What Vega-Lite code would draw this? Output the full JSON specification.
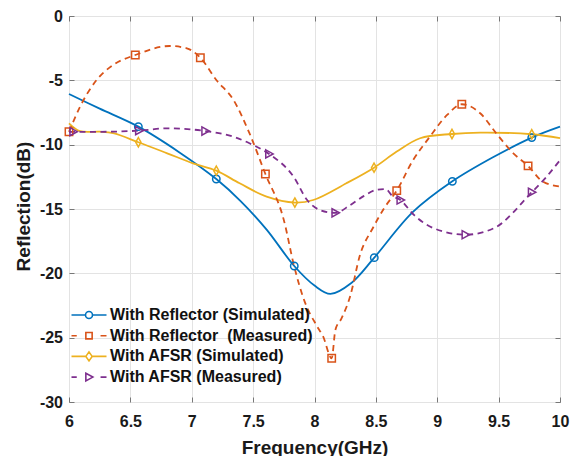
{
  "$schema": "https://vega.github.io/schema/vega-lite/v6.json",
  "width": 491,
  "height": 386,
  "autosize": {"type": "none"},
  "padding": {"left": 69, "top": 16, "right": 22, "bottom": 54},
  "background": "white",
  "config": {
    "font": "Liberation Sans",
    "view": {"stroke": "#7a7a7a", "strokeWidth": 1},
    "legend": {
      "orient": "none",
      "legendX": 12,
      "legendY": 291,
      "padding": 0,
      "symbolSize": 196,
      "symbolStrokeWidth": 1.6,
      "symbolFillColor": "transparent",
      "symbolOffset": 0,
      "labelOffset": 13,
      "labelFont": "Liberation Sans",
      "labelFontSize": 16,
      "labelFontWeight": "bold",
      "labelColor": "#111111",
      "labelLimit": 400,
      "rowPadding": 4.7
    }
  },
  "datasets": {
    "lines": [
      {"s": "With Reflector (Simulated)", "f": 6.0, "r": -6.06},
      {"s": "With Reflector (Simulated)", "f": 6.25, "r": -7.2},
      {"s": "With Reflector (Simulated)", "f": 6.565, "r": -8.6},
      {"s": "With Reflector (Simulated)", "f": 6.9, "r": -10.6},
      {"s": "With Reflector (Simulated)", "f": 7.2, "r": -12.67},
      {"s": "With Reflector (Simulated)", "f": 7.4, "r": -14.4},
      {"s": "With Reflector (Simulated)", "f": 7.61, "r": -16.6},
      {"s": "With Reflector (Simulated)", "f": 7.835, "r": -19.43},
      {"s": "With Reflector (Simulated)", "f": 8.0, "r": -20.95},
      {"s": "With Reflector (Simulated)", "f": 8.13, "r": -21.6},
      {"s": "With Reflector (Simulated)", "f": 8.3, "r": -20.75},
      {"s": "With Reflector (Simulated)", "f": 8.487, "r": -18.78},
      {"s": "With Reflector (Simulated)", "f": 8.8, "r": -15.25},
      {"s": "With Reflector (Simulated)", "f": 9.123, "r": -12.85},
      {"s": "With Reflector (Simulated)", "f": 9.45, "r": -11.0},
      {"s": "With Reflector (Simulated)", "f": 9.77, "r": -9.45},
      {"s": "With Reflector (Simulated)", "f": 10.0, "r": -8.6},

      {"s": "With Reflector \u00a0(Measured)", "f": 6.0, "r": -9.0},
      {"s": "With Reflector \u00a0(Measured)", "f": 6.09, "r": -7.05},
      {"s": "With Reflector \u00a0(Measured)", "f": 6.225, "r": -4.97},
      {"s": "With Reflector \u00a0(Measured)", "f": 6.36, "r": -3.8},
      {"s": "With Reflector \u00a0(Measured)", "f": 6.54, "r": -3.03},
      {"s": "With Reflector \u00a0(Measured)", "f": 6.82, "r": -2.33},
      {"s": "With Reflector \u00a0(Measured)", "f": 6.96, "r": -2.51},
      {"s": "With Reflector \u00a0(Measured)", "f": 7.07, "r": -3.24},
      {"s": "With Reflector \u00a0(Measured)", "f": 7.2, "r": -4.97},
      {"s": "With Reflector \u00a0(Measured)", "f": 7.34, "r": -6.53},
      {"s": "With Reflector \u00a0(Measured)", "f": 7.47, "r": -9.11},
      {"s": "With Reflector \u00a0(Measured)", "f": 7.6, "r": -12.28},
      {"s": "With Reflector \u00a0(Measured)", "f": 7.75, "r": -15.85},
      {"s": "With Reflector \u00a0(Measured)", "f": 7.835, "r": -19.48},
      {"s": "With Reflector \u00a0(Measured)", "f": 7.92, "r": -22.2},
      {"s": "With Reflector \u00a0(Measured)", "f": 8.02, "r": -24.1},
      {"s": "With Reflector \u00a0(Measured)", "f": 8.07, "r": -24.9},
      {"s": "With Reflector \u00a0(Measured)", "f": 8.14, "r": -26.6},
      {"s": "With Reflector \u00a0(Measured)", "f": 8.17, "r": -24.4},
      {"s": "With Reflector \u00a0(Measured)", "f": 8.22, "r": -23.5},
      {"s": "With Reflector \u00a0(Measured)", "f": 8.29, "r": -21.8},
      {"s": "With Reflector \u00a0(Measured)", "f": 8.37, "r": -18.6},
      {"s": "With Reflector \u00a0(Measured)", "f": 8.48, "r": -16.4},
      {"s": "With Reflector \u00a0(Measured)", "f": 8.57, "r": -14.9},
      {"s": "With Reflector \u00a0(Measured)", "f": 8.67, "r": -13.57},
      {"s": "With Reflector \u00a0(Measured)", "f": 8.8, "r": -11.25},
      {"s": "With Reflector \u00a0(Measured)", "f": 8.94, "r": -9.38},
      {"s": "With Reflector \u00a0(Measured)", "f": 9.08, "r": -7.69},
      {"s": "With Reflector \u00a0(Measured)", "f": 9.2, "r": -6.86},
      {"s": "With Reflector \u00a0(Measured)", "f": 9.35, "r": -7.56},
      {"s": "With Reflector \u00a0(Measured)", "f": 9.48, "r": -9.11},
      {"s": "With Reflector \u00a0(Measured)", "f": 9.62, "r": -10.67},
      {"s": "With Reflector \u00a0(Measured)", "f": 9.74, "r": -11.65},
      {"s": "With Reflector \u00a0(Measured)", "f": 9.86, "r": -12.87},
      {"s": "With Reflector \u00a0(Measured)", "f": 10.0, "r": -13.26},

      {"s": "With AFSR (Simulated)", "f": 6.0, "r": -8.34},
      {"s": "With AFSR (Simulated)", "f": 6.09, "r": -8.95},
      {"s": "With AFSR (Simulated)", "f": 6.25, "r": -8.99},
      {"s": "With AFSR (Simulated)", "f": 6.36, "r": -9.11},
      {"s": "With AFSR (Simulated)", "f": 6.565, "r": -9.81},
      {"s": "With AFSR (Simulated)", "f": 6.8, "r": -10.67},
      {"s": "With AFSR (Simulated)", "f": 7.01, "r": -11.45},
      {"s": "With AFSR (Simulated)", "f": 7.2, "r": -12.02},
      {"s": "With AFSR (Simulated)", "f": 7.39, "r": -13.0},
      {"s": "With AFSR (Simulated)", "f": 7.61, "r": -14.04},
      {"s": "With AFSR (Simulated)", "f": 7.84, "r": -14.5},
      {"s": "With AFSR (Simulated)", "f": 7.99, "r": -14.3},
      {"s": "With AFSR (Simulated)", "f": 8.26, "r": -13.0},
      {"s": "With AFSR (Simulated)", "f": 8.485, "r": -11.79},
      {"s": "With AFSR (Simulated)", "f": 8.67, "r": -10.54},
      {"s": "With AFSR (Simulated)", "f": 8.86, "r": -9.5},
      {"s": "With AFSR (Simulated)", "f": 9.12, "r": -9.17},
      {"s": "With AFSR (Simulated)", "f": 9.35, "r": -9.07},
      {"s": "With AFSR (Simulated)", "f": 9.77, "r": -9.19},
      {"s": "With AFSR (Simulated)", "f": 10.0, "r": -9.5},

      {"s": "With AFSR (Measured)", "f": 6.0, "r": -9.0},
      {"s": "With AFSR (Measured)", "f": 6.25, "r": -9.0},
      {"s": "With AFSR (Measured)", "f": 6.57, "r": -8.91},
      {"s": "With AFSR (Measured)", "f": 6.8, "r": -8.73},
      {"s": "With AFSR (Measured)", "f": 7.11, "r": -8.94},
      {"s": "With AFSR (Measured)", "f": 7.34, "r": -9.38},
      {"s": "With AFSR (Measured)", "f": 7.47, "r": -9.89},
      {"s": "With AFSR (Measured)", "f": 7.63, "r": -10.72},
      {"s": "With AFSR (Measured)", "f": 7.83, "r": -12.5},
      {"s": "With AFSR (Measured)", "f": 7.94, "r": -14.3},
      {"s": "With AFSR (Measured)", "f": 8.05, "r": -15.1},
      {"s": "With AFSR (Measured)", "f": 8.17, "r": -15.3},
      {"s": "With AFSR (Measured)", "f": 8.29, "r": -14.7},
      {"s": "With AFSR (Measured)", "f": 8.4, "r": -14.0},
      {"s": "With AFSR (Measured)", "f": 8.51, "r": -13.5},
      {"s": "With AFSR (Measured)", "f": 8.58, "r": -13.45},
      {"s": "With AFSR (Measured)", "f": 8.63, "r": -13.95},
      {"s": "With AFSR (Measured)", "f": 8.7, "r": -14.3},
      {"s": "With AFSR (Measured)", "f": 8.81, "r": -15.46},
      {"s": "With AFSR (Measured)", "f": 8.91, "r": -16.2},
      {"s": "With AFSR (Measured)", "f": 9.05, "r": -16.75},
      {"s": "With AFSR (Measured)", "f": 9.23, "r": -17.0},
      {"s": "With AFSR (Measured)", "f": 9.46, "r": -16.5},
      {"s": "With AFSR (Measured)", "f": 9.77, "r": -13.7},
      {"s": "With AFSR (Measured)", "f": 9.89, "r": -12.5},
      {"s": "With AFSR (Measured)", "f": 10.0, "r": -11.2}
    ],
    "markers": [
      {"s": "With Reflector (Simulated)", "m": "circle", "f": 6.565, "r": -8.6},
      {"s": "With Reflector (Simulated)", "m": "circle", "f": 7.2, "r": -12.67},
      {"s": "With Reflector (Simulated)", "m": "circle", "f": 7.835, "r": -19.43},
      {"s": "With Reflector (Simulated)", "m": "circle", "f": 8.487, "r": -18.78},
      {"s": "With Reflector (Simulated)", "m": "circle", "f": 9.123, "r": -12.85},
      {"s": "With Reflector (Simulated)", "m": "circle", "f": 9.77, "r": -9.45},

      {"s": "With Reflector \u00a0(Measured)", "m": "square", "f": 6.0, "r": -9.0},
      {"s": "With Reflector \u00a0(Measured)", "m": "square", "f": 6.54, "r": -3.03},
      {"s": "With Reflector \u00a0(Measured)", "m": "square", "f": 7.07, "r": -3.24},
      {"s": "With Reflector \u00a0(Measured)", "m": "square", "f": 7.6, "r": -12.28},
      {"s": "With Reflector \u00a0(Measured)", "m": "square", "f": 8.14, "r": -26.6},
      {"s": "With Reflector \u00a0(Measured)", "m": "square", "f": 8.67, "r": -13.57},
      {"s": "With Reflector \u00a0(Measured)", "m": "square", "f": 9.2, "r": -6.86},
      {"s": "With Reflector \u00a0(Measured)", "m": "square", "f": 9.74, "r": -11.65},

      {"s": "With AFSR (Simulated)", "m": "diamond", "f": 6.565, "r": -9.81},
      {"s": "With AFSR (Simulated)", "m": "diamond", "f": 7.2, "r": -12.02},
      {"s": "With AFSR (Simulated)", "m": "diamond", "f": 7.84, "r": -14.5},
      {"s": "With AFSR (Simulated)", "m": "diamond", "f": 8.485, "r": -11.79},
      {"s": "With AFSR (Simulated)", "m": "diamond", "f": 9.12, "r": -9.17},
      {"s": "With AFSR (Simulated)", "m": "diamond", "f": 9.77, "r": -9.19},

      {"s": "With AFSR (Measured)", "m": "triangle", "f": 6.035, "r": -8.99},
      {"s": "With AFSR (Measured)", "m": "triangle", "f": 6.57, "r": -8.91},
      {"s": "With AFSR (Measured)", "m": "triangle", "f": 7.11, "r": -8.94},
      {"s": "With AFSR (Measured)", "m": "triangle", "f": 7.63, "r": -10.72},
      {"s": "With AFSR (Measured)", "m": "triangle", "f": 8.17, "r": -15.3},
      {"s": "With AFSR (Measured)", "m": "triangle", "f": 8.7, "r": -14.3},
      {"s": "With AFSR (Measured)", "m": "triangle", "f": 9.23, "r": -17.0},
      {"s": "With AFSR (Measured)", "m": "triangle", "f": 9.77, "r": -13.7}
    ]
  },
  "layer": [
    {
      "data": {"name": "lines"},
      "transform": [{"filter": "indexof(datum.s, 'Simulated') >= 0"}],
      "mark": {"type": "line", "interpolate": "catmull-rom", "strokeWidth": 1.8},
      "encoding": {
        "x": {
          "field": "f", "type": "quantitative",
          "scale": {"domain": [6, 10], "nice": false, "zero": false},
          "axis": {
            "orient": "bottom",
            "values": [6, 6.5, 7, 7.5, 8, 8.5, 9, 9.5, 10],
            "labelExpr": "'' + datum.value",
            "grid": true, "gridColor": "#e3e3e3", "gridWidth": 1,
            "domain": false,
            "ticks": true, "tickSize": -5, "tickColor": "#777777",
            "labelPadding": 16.4, "labelFontSize": 16, "labelFontWeight": "bold", "labelColor": "#1a1a1a",
            "labelFlush": false, "labelOverlap": false,
            "title": "Frequency(GHz)", "titleFontSize": 19, "titleFontWeight": "bold", "titleColor": "#1a1a1a",
            "titleY": 36
          }
        },
        "y": {
          "field": "r", "type": "quantitative",
          "scale": {"domain": [-30, 0], "nice": false, "zero": false},
          "axis": {
            "orient": "left",
            "values": [-30, -25, -20, -15, -10, -5, 0],
            "labelExpr": "'' + datum.value",
            "grid": true, "gridColor": "#e3e3e3", "gridWidth": 1,
            "domain": false,
            "ticks": true, "tickSize": -5, "tickColor": "#777777",
            "labelPadding": 11.5, "labelFontSize": 16, "labelFontWeight": "bold", "labelColor": "#1a1a1a",
            "labelFlush": false, "labelOverlap": false,
            "title": "Reflection(dB)", "titleFontSize": 19, "titleFontWeight": "bold", "titleColor": "#1a1a1a",
            "titleX": -35.5, "titleY": 190
          }
        },
        "color": {
          "field": "s", "type": "nominal",
          "scale": {
            "domain": ["With Reflector (Simulated)", "With Reflector \u00a0(Measured)", "With AFSR (Simulated)", "With AFSR (Measured)"],
            "range": ["#0072BD", "#D95319", "#EDB120", "#7E2F8E"]
          },
          "legend": {
            "title": null,
            "symbolType": {"expr": "datum.index === 0 ? 'M-2.5,0H-0.5M0.5,0H2.5M-0.5,0A0.5,0.5,0,1,1,0.5,0A0.5,0.5,0,1,1,-0.5,0' : datum.index === 1 ? 'M-2.5,0H-1.75M1.65,0H2.5M-0.45,-0.45H0.45V0.45H-0.45Z' : datum.index === 2 ? 'M-2.5,0H-0.45M0.45,0H2.5M0,-0.65L0.45,0L0,0.65L-0.45,0Z' : 'M-2.5,0H-1.75M1.65,0H2.5M-0.45,-0.55L0.55,0L-0.45,0.55Z'"}
          }
        }
      }
    },
    {
      "data": {"name": "lines"},
      "transform": [{"filter": "indexof(datum.s, 'Measured') >= 0"}],
      "mark": {"type": "line", "interpolate": "monotone", "strokeWidth": 1.8, "strokeDash": [6, 4.5]},
      "encoding": {
        "x": {"field": "f", "type": "quantitative", "axis": null},
        "y": {"field": "r", "type": "quantitative", "axis": null},
        "color": {
          "field": "s", "type": "nominal",
          "legend": {
            "title": null,
            "symbolType": {"expr": "datum.index === 0 ? 'M-2.5,0H-0.5M0.5,0H2.5M-0.5,0A0.5,0.5,0,1,1,0.5,0A0.5,0.5,0,1,1,-0.5,0' : datum.index === 1 ? 'M-2.5,0H-1.75M1.65,0H2.5M-0.45,-0.45H0.45V0.45H-0.45Z' : datum.index === 2 ? 'M-2.5,0H-0.45M0.45,0H2.5M0,-0.65L0.45,0L0,0.65L-0.45,0Z' : 'M-2.5,0H-1.75M1.65,0H2.5M-0.45,-0.55L0.55,0L-0.45,0.55Z'"}
          }
        }
      }
    },
    {
      "data": {"name": "markers"},
      "mark": {"type": "point", "filled": false, "size": 55, "strokeWidth": 1.5, "opacity": 1},
      "encoding": {
        "x": {
          "field": "f", "type": "quantitative",
          "axis": {
            "orient": "top",
            "values": [6, 6.5, 7, 7.5, 8, 8.5, 9, 9.5, 10],
            "labels": false, "grid": false, "domain": false,
            "ticks": true, "tickSize": -5, "tickColor": "#777777",
            "title": null
          }
        },
        "y": {
          "field": "r", "type": "quantitative",
          "axis": {
            "orient": "right",
            "values": [-30, -25, -20, -15, -10, -5, 0],
            "labels": false, "grid": false, "domain": false,
            "ticks": true, "tickSize": -5, "tickColor": "#777777",
            "title": null
          }
        },
        "color": {
          "field": "s", "type": "nominal",
          "legend": {
            "title": null,
            "symbolType": {"expr": "datum.index === 0 ? 'M-2.5,0H-0.5M0.5,0H2.5M-0.5,0A0.5,0.5,0,1,1,0.5,0A0.5,0.5,0,1,1,-0.5,0' : datum.index === 1 ? 'M-2.5,0H-1.75M1.65,0H2.5M-0.45,-0.45H0.45V0.45H-0.45Z' : datum.index === 2 ? 'M-2.5,0H-0.45M0.45,0H2.5M0,-0.65L0.45,0L0,0.65L-0.45,0Z' : 'M-2.5,0H-1.75M1.65,0H2.5M-0.45,-0.55L0.55,0L-0.45,0.55Z'"}
          }
        },
        "shape": {
          "field": "m", "type": "nominal",
          "scale": {
            "domain": ["circle", "square", "diamond", "triangle"],
            "range": ["circle", "square", "M0,-1.25L0.7,0L0,1.25L-0.7,0Z", "M-0.9,-1.1L1.1,0L-0.9,1.1Z"]
          },
          "legend": null
        }
      }
    }
  ],
  "resolve": {"axis": {"x": "independent", "y": "independent"}}
}
